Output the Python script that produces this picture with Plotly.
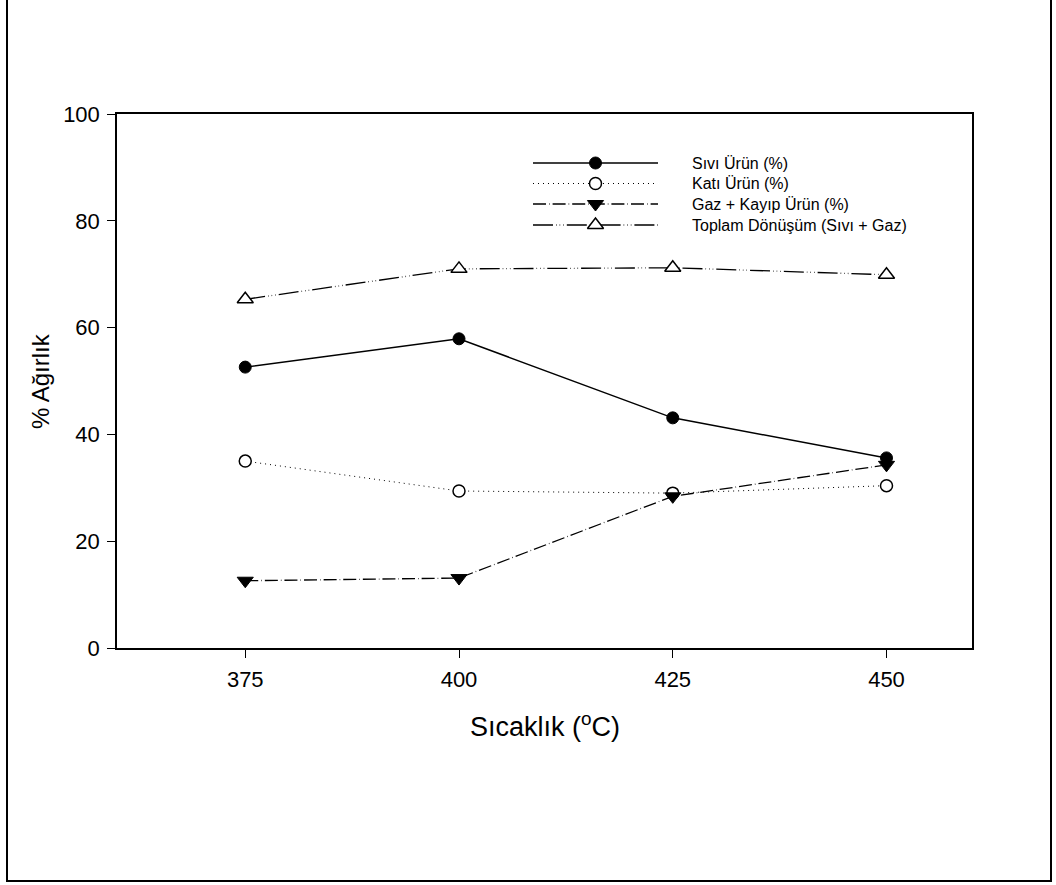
import plotly.graph_objects as go

# ---- data ----
sicaklik = [375, 400, 425, 450]
sivi = [52.6, 57.9, 43.1, 35.6]
kati = [35.0, 29.4, 29.0, 30.4]
gaz = [12.6, 13.1, 28.4, 34.3]
toplam = [65.3, 71.0, 71.2, 69.9]

x_ticks = [375, 400, 425, 450]
y_ticks = [0, 20, 40, 60, 80, 100]

names = ["Sıvı Ürün (%)", "Katı Ürün (%)", "Gaz + Kayıp Ürün (%)", "Toplam Dönüşüm (Sıvı + Gaz)"]
series = [sivi, kati, gaz, toplam]

styles = [
    dict(dash="solid", width=1.5, symbol="circle", size=12, fill="black", lw=1),
    dict(dash="1px,4px", width=1, symbol="circle", size=12, fill="white", lw=1.5),
    dict(dash="13px,3px,0.6px,3px", width=1.3, symbol="triangle-down", size=14, fill="black", lw=1),
    dict(dash="20px,3px,0.6px,3px,0.6px,3px,0.6px,3px", width=1.3, symbol="triangle-up", size=14, fill="white", lw=1.5),
]

W, H = 1056, 885
L, R, T, B = 117, 972, 114, 648
FONT = "Liberation Sans, Arial"

fig = go.Figure()

for name, vals, st in zip(names, series, styles):
    fig.add_trace(go.Scatter(
        x=sicaklik, y=vals, name=name, mode="lines+markers",
        line=dict(color="black", width=st["width"], dash=st["dash"]),
        marker=dict(symbol=st["symbol"], size=st["size"], color=st["fill"],
                    line=dict(color="black", width=st["lw"])),
        showlegend=False, cliponaxis=False,
    ))

# ---- manual legend drawn on an overlay axis pair ----
leg_rows = [163, 183.5, 204, 225]
leg_x0, leg_x1, leg_text_x = 533, 658, 690
annotations = []
for name, st, ry in zip(names, styles, leg_rows):
    fig.add_trace(go.Scatter(
        x=[0, 1], y=[ry, ry], mode="lines", xaxis="x2", yaxis="y2",
        line=dict(color="black", width=st["width"], dash=st["dash"]),
        showlegend=False, hoverinfo="skip",
    ))
    fig.add_trace(go.Scatter(
        x=[0.5], y=[ry], mode="markers", xaxis="x2", yaxis="y2",
        marker=dict(symbol=st["symbol"], size=st["size"], color=st["fill"],
                    line=dict(color="black", width=st["lw"])),
        showlegend=False, hoverinfo="skip",
    ))
    annotations.append(dict(
        x=(leg_text_x - L) / (R - L), y=ry, xref="paper", yref="y2",
        text=name, showarrow=False, xanchor="left", yanchor="middle",
        font=dict(family=FONT, size=16, color="black"),
    ))

annotations.append(dict(
    x=(40 - L) / (R - L), y=0.5, xref="paper", yref="paper", text="% Ağırlık", textangle=-90,
    showarrow=False, xanchor="center", yanchor="middle",
    font=dict(family=FONT, size=24, color="black"),
))
annotations.append(dict(
    x=0.5, y=(B - 725) / (B - T), xref="paper", yref="paper", text="Sıcaklık (<sup>o</sup>C)",
    showarrow=False, xanchor="center", yanchor="middle",
    font=dict(family=FONT, size=27, color="black"),
))

fig.update_layout(
    width=W, height=H,
    margin=dict(l=L, r=W - R, t=T, b=H - B, pad=0),
    plot_bgcolor="white", paper_bgcolor="white",
    font=dict(family=FONT, color="black", size=22),
    xaxis=dict(
        range=[360, 460], tickvals=x_ticks, ticks="outside", ticklen=8, tickwidth=1,
        tickcolor="black", showline=True, linecolor="black", linewidth=1.5, mirror=True,
        showgrid=False, zeroline=False, ticklabelstandoff=3,
        tickfont=dict(family=FONT, size=22, color="black"),
    ),
    yaxis=dict(
        range=[0, 100], tickvals=y_ticks, ticks="outside", ticklen=8, tickwidth=1,
        tickcolor="black", showline=True, linecolor="black", linewidth=1.5, mirror=True,
        showgrid=False, zeroline=False, ticklabelstandoff=3,
        tickfont=dict(family=FONT, size=22, color="black"),
    ),
    xaxis2=dict(domain=[(leg_x0 - L) / (R - L), (leg_x1 - L) / (R - L)], range=[0, 1],
                anchor="y2", visible=False, fixedrange=True),
    yaxis2=dict(domain=[(B - 240) / (B - T), (B - 150) / (B - T)], range=[240, 150],
                anchor="x2", visible=False, fixedrange=True),
    annotations=annotations,
    shapes=[dict(type="rect", xref="paper", yref="paper",
                 x0=(7 - L) / (R - L), x1=(1051 - L) / (R - L),
                 y0=(B - 881) / (B - T), y1=(B + 10) / (B - T),
                 line=dict(color="black", width=2), fillcolor="rgba(0,0,0,0)")],
)

fig.write_html("out.html")
